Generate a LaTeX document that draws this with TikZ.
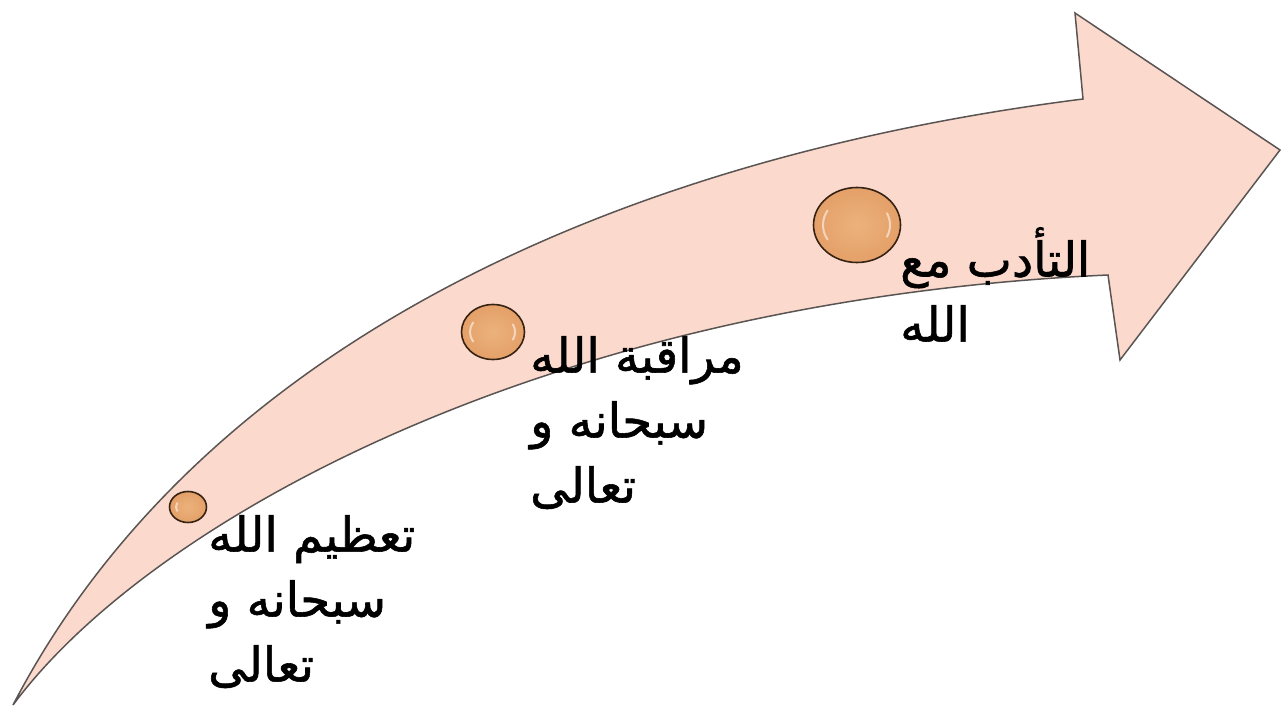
\documentclass[tikz,border=0pt]{standalone}
\usepackage{fontspec}
\newfontfamily\arabicfont[Script=Arabic,FakeBold=1.2]{DejaVu Sans}
\TeXXeTstate=1
\usetikzlibrary{shapes.geometric}
\definecolor{bandfill}{RGB}{251,217,204}
\definecolor{bandline}{RGB}{90,85,83}
\definecolor{dotfill}{RGB}{228,160,104}
\definecolor{dotinner}{RGB}{236,178,124}
\definecolor{dotline}{RGB}{55,35,20}
\tikzset{
  band/.style={fill=bandfill, draw=bandline, line width=1.5pt, line join=miter},
  dot/.style={ellipse, draw=dotline, line width=1.6pt, inner color=dotinner, outer color=dotfill, inner sep=0pt},
  hl/.style={draw=white, opacity=0.55, line width=2pt, line cap=round},
  lbl/.style={anchor=north west, inner sep=0pt, align=left, font=\arabicfont\fontsize{48}{65}\selectfont, text=black}
}
\begin{document}
\begin{tikzpicture}[x=1pt,y=-1pt]
\useasboundingbox (0,0) rectangle (1281,706);
% curved arrow
\coordinate (tail) at (13,705);
\coordinate (neckT) at (1083,99);
\coordinate (tipT) at (1075,13);
\coordinate (tip) at (1280,150);
\coordinate (tipB) at (1120,360);
\coordinate (neckB) at (1108,275);
\draw[band] (tail) .. controls (195,355) and (600,160) .. (neckT)
  -- (tipT) -- (tip) -- (tipB) -- (neckB)
  .. controls (550,300) and (150,520) .. (tail) -- cycle;
% dots
\node[dot, minimum width=37pt, minimum height=31pt] (c1) at (188,507) {};
\node[dot, minimum width=63pt, minimum height=55pt] (c2) at (493,332) {};
\node[dot, minimum width=87pt, minimum height=75pt] (c3) at (857,225) {};
\draw[hl] (c1.center) ++(155:12 and 9) arc[start angle=155,end angle=205,x radius=12,y radius=9];
\draw[hl] (c2.center) ++(150:23 and 19) arc[start angle=150,end angle=210,x radius=23,y radius=19];
\draw[hl] (c2.center) ++(-25:22 and 18) arc[start angle=-25,end angle=25,x radius=22,y radius=18];
\draw[hl] (c3.center) ++(150:34 and 29) arc[start angle=150,end angle=210,x radius=34,y radius=29];
\draw[hl] (c3.center) ++(-25:33 and 28) arc[start angle=-25,end angle=25,x radius=33,y radius=28];
% labels
\node[lbl] (t3) at (208,515) {\beginR تعظيم الله\endR\\\beginR سبحانه و\endR\\\beginR تعالى\endR};
\node[lbl] (t2) at (530,336) {\beginR مراقبة الله\endR\\\beginR سبحانه و\endR\\\beginR تعالى\endR};
\node[lbl] (t1) at (900,227) {\beginR التأدب مع\endR\\\beginR الله\endR};
\end{tikzpicture}
\end{document}
